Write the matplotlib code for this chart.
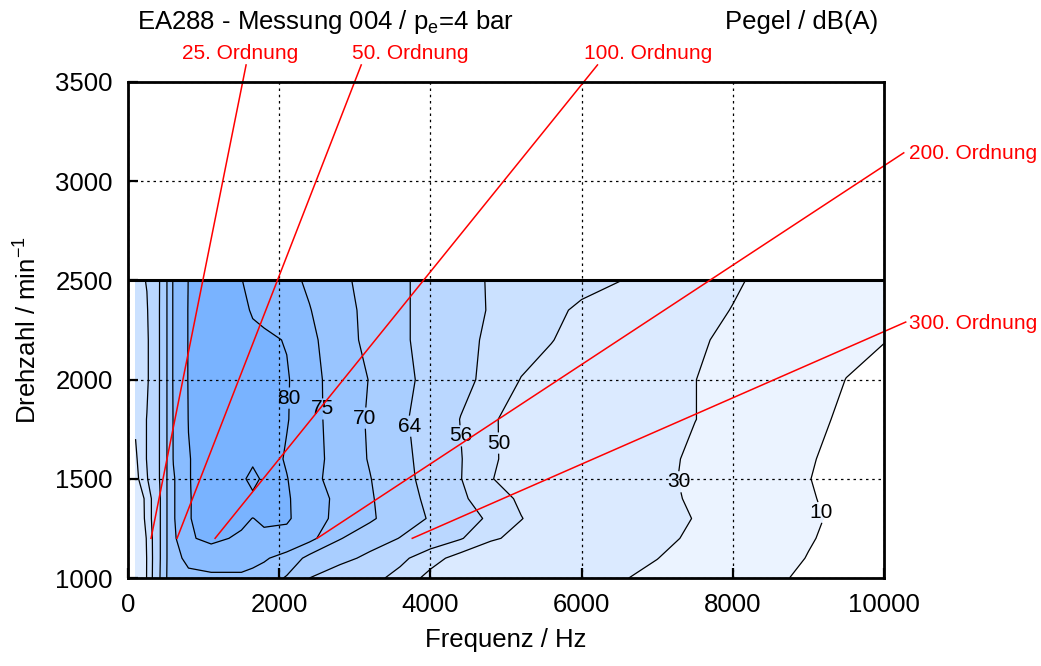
import matplotlib
matplotlib.use("Agg")
import matplotlib.pyplot as plt
import numpy as np

plt.rcParams['font.family'] = ['Liberation Sans', 'DejaVu Sans']
plt.rcParams['mathtext.fontset'] = 'custom'
plt.rcParams['mathtext.rm'] = 'Liberation Sans'
plt.rcParams['mathtext.it'] = 'Liberation Sans:italic'
plt.rcParams['mathtext.default'] = 'regular'

# Frequenzachse (Hz) und Drehzahl (1/min) des Messgitters
frequenz = [100, 250, 420, 520, 600, 800, 1100, 1500, 1650, 1800, 2100, 2400, 2800, 3200,
            3600, 4000, 4400, 4800, 5200, 5600, 6000, 6500, 7000, 7500, 8000, 8500, 9000,
            9500, 10000]
drehzahl = [1000, 1100, 1200, 1300, 1400, 1500, 1600, 1800, 2000, 2200, 2350, 2500]

# Pegel dB(A), eine Zeile je Drehzahl
pegel_1000 = [40, 50.3, 63.8, 70.5, 72, 73.5, 74, 74, 73.5, 73, 69.5, 64, 60, 58, 54, 48, 45, 42, 40, 37, 34, 31, 27, 22, 17, 12, 8, 5, 2]
pegel_1100 = [41, 50.2, 63.5, 70.3, 73, 76.5, 77.5, 77.5, 76.5, 75.5, 73.4, 68.5, 66, 62.5, 57.5, 52.5, 47.5, 44, 41, 38, 35, 32, 30.2, 25, 20, 15, 9.5, 6, 3]
pegel_1200 = [42, 50.5, 63.5, 70.3, 74, 79.5, 81, 79.3, 79, 79, 78.5, 76.5, 70.3, 67, 63.8, 60, 56.5, 51, 48, 45, 42, 38, 33, 28, 23, 17, 11, 6, 3]
pegel_1300 = [43, 52, 63.5, 70.3, 74.5, 79.8, 81.5, 81, 79.9, 80.8, 80.6, 77.5, 73.5, 70.8, 67, 63.5, 60, 54.5, 50.2, 47, 44, 40, 35, 29.5, 24, 18, 12, 7, 4]
pegel_1400 = [44, 52, 63.5, 70.3, 74.5, 79.8, 81.5, 81.5, 83, 81, 80.6, 77, 74, 70.5, 67, 62.5, 57, 53, 49, 46, 43, 39, 33, 28.5, 23, 17, 11, 6.5, 4]
pegel_1500 = [48, 55.5, 64.2, 70.3, 74.5, 79.8, 82, 83, 88, 83, 80.2, 76.5, 73, 70.2, 66, 62, 56.2, 50.3, 47, 44, 41, 37, 33, 27.5, 21, 15.5, 10.3, 6, 3.5]
pegel_1600 = [49, 56.3, 64.2, 70.3, 75.2, 79.8, 82, 82.5, 83, 82.5, 79.5, 76.5, 73.5, 69.6, 65.5, 62, 56.3, 50.7, 48, 45, 42, 38, 34, 27.5, 22, 16.5, 10.8, 7, 4]
pegel_1800 = [51, 56.2, 64.2, 70.3, 75.3, 80.1, 81.5, 82, 82, 81.5, 80.3, 77, 72.5, 69.5, 65, 61.5, 55.8, 50.8, 47.5, 44.5, 41.5, 38, 35, 30.2, 25, 19, 13, 8, 5]
pegel_2000 = [53, 55, 64.2, 70.3, 75.5, 80.2, 81.5, 82, 82, 81.5, 80.5, 76.5, 73, 69.8, 65.5, 62.5, 58, 54, 49.8, 47, 44, 40.5, 35, 30.2, 25, 21, 17, 9.8, 7]
pegel_2200 = [53, 55, 64.2, 70.3, 75.5, 80.2, 81.5, 81.5, 81, 81, 79.7, 76, 72.5, 68.5, 65, 62, 58.5, 54.5, 52.5, 50.3, 47, 42, 37, 32, 27, 22, 18, 14, 10.3]
pegel_2350 = [53, 55.5, 64.2, 70.3, 75.5, 80.2, 81.5, 81, 79.6, 78.5, 77, 75.2, 72, 68.5, 65, 62, 58.5, 55.5, 53, 51.3, 49, 45, 40, 35, 29.5, 24, 20, 16, 12]
pegel_2500 = [54, 56.3, 64.1, 70.3, 75.5, 80.1, 81.2, 80.1, 79, 78, 76.3, 74.3, 71, 68.5, 65, 62, 58, 55.5, 54, 53, 51.8, 50.2, 45, 39, 32, 26, 21.5, 17.5, 14]

pegel = np.array([pegel_1000, pegel_1100, pegel_1200, pegel_1300, pegel_1400, pegel_1500,
                  pegel_1600, pegel_1800, pegel_2000, pegel_2200, pegel_2350, pegel_2500])

stufen = [10, 30, 50, 56, 64, 70, 75, 80, 85]
farben = ['#FFFFFF', '#EBF3FF', '#DBEAFF', '#CBE1FF', '#BAD7FF', '#A9CEFF',
          '#99C5FF', '#89BCFF', '#79B3FF', '#79B3FF']

# Ordnungslinien: Startpunkt bei 1200 1/min, Endpunkt am Beschriftungstext
ordnungen = ['25. Ordnung', '50. Ordnung', '100. Ordnung', '200. Ordnung', '300. Ordnung']
ordnung_start_f = [305, 649, 1152, 2502, 3760]
ordnung_start_n = [1200, 1200, 1200, 1200, 1200]
ordnung_ende_f = [1562, 3085, 6210, 10261, 10287]
ordnung_ende_n = [3586, 3586, 3586, 3143, 2290]

fig = plt.figure(figsize=(10.41, 6.66), dpi=100)
ax = fig.add_axes([128/1041, 1-578/666, (884-128)/1041, (578-82)/666])

cf = ax.contourf(frequenz, drehzahl, pegel, levels=[-100]+stufen+[200], colors=farben, zorder=1)
cs = ax.contour(frequenz, drehzahl, pegel, levels=stufen, colors='black', linewidths=0.9, zorder=2)

# Beschriftung der Isolinien, waagrecht wie im Original
pos = [(2039, 1907), (2568, 1852), (3125, 1806), (3773, 1766), (4343, 1716),
       (4806, 1680), (7255, 1484), (9122, 1328)]
beschr = ax.clabel(cs, levels=stufen, manual=pos, inline=True, inline_spacing=6,
                   fontsize=15, fmt='%d', colors='black')
for t in beschr:
    t.set_rotation(0)

ax.axhline(2500, color='black', lw=2.2, zorder=4)

for i in range(len(ordnungen)):
    ax.plot([ordnung_start_f[i], ordnung_ende_f[i]], [ordnung_start_n[i], ordnung_ende_n[i]],
            color='red', lw=1.1, clip_on=False, zorder=5)

ax.text(1483, 3646, ordnungen[0], color='red', fontsize=15, ha='center', va='center', clip_on=False)
ax.text(3734, 3646, ordnungen[1], color='red', fontsize=15, ha='center', va='center', clip_on=False)
ax.text(6885, 3646, ordnungen[2], color='red', fontsize=15, ha='center', va='center', clip_on=False)
ax.text(10327, 3142, ordnungen[3], color='red', fontsize=15, ha='left', va='center', clip_on=False)
ax.text(10327, 2285, ordnungen[4], color='red', fontsize=15, ha='left', va='center', clip_on=False)

ax.set_xlim(0, 10000)
ax.set_ylim(1000, 3500)
ax.set_xticks(np.arange(0, 10001, 2000))
ax.set_yticks(np.arange(1000, 3501, 500))
ax.set_axisbelow(False)
ax.grid(True, color='black', linestyle=(0, (2, 3)), linewidth=0.9)
ax.tick_params(direction='in', length=7, width=1.6, labelsize=18.5, pad=11)
for s in ax.spines.values():
    s.set_linewidth(2)
    s.set_zorder(6)

ax.set_xlabel('Frequenz / Hz', fontsize=18.5, labelpad=8)
ax.set_ylabel('Drehzahl / min$^{-1}$', fontsize=18.5, labelpad=10)

fig.text(137/1041, 1-22/666, 'EA288 - Messung 004 / p$_{e}$=4 bar', fontsize=18.5, ha='left', va='center')
fig.text(878/1041, 1-22/666, 'Pegel / dB(A)', fontsize=18.5, ha='right', va='center')

fig.savefig('out.png', dpi=100)
